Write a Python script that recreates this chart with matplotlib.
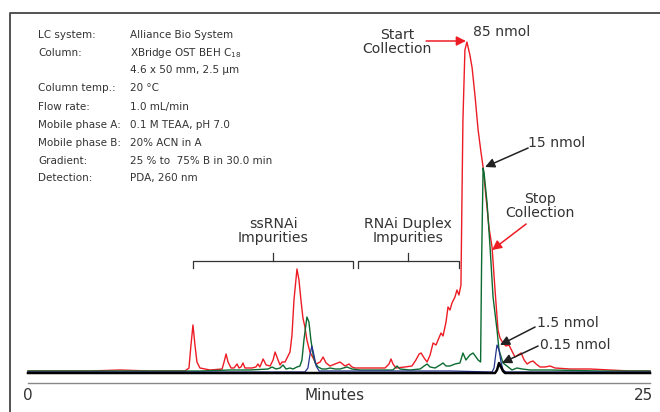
import matplotlib
matplotlib.use("Agg")
import matplotlib.pyplot as plt

# chromatogram traces: time (min), response (arb. units)
red_t = [0.00, 1.29, 2.49, 3.70, 4.90, 6.31, 6.47, 6.55, 6.63, 6.71, 6.79, 6.91,
         7.32, 7.80, 7.88, 7.96, 8.04, 8.16, 8.28, 8.40, 8.48, 8.56, 8.64, 8.72,
         9.00, 9.16, 9.24, 9.32, 9.45, 9.57, 9.73, 9.85, 9.93, 10.05, 10.13, 10.21,
         10.33, 10.45, 10.53, 10.61, 10.69, 10.81, 10.89, 10.97, 11.05, 11.13, 11.21,
         11.33, 11.46, 11.58, 11.74, 11.86, 11.98, 12.14, 12.34, 12.54, 12.74, 12.90,
         13.02, 13.14, 13.75, 14.35, 14.51, 14.59, 14.67, 14.79, 15.15, 15.43, 15.59,
         15.72, 15.80, 15.92, 16.04, 16.16, 16.28, 16.40, 16.48, 16.60, 16.68, 16.80,
         16.88, 16.96, 17.04, 17.16, 17.24, 17.32, 17.40, 17.44, 17.48, 17.56, 17.64,
         17.76, 17.85, 17.97, 18.09, 18.21, 18.29, 18.41, 18.53, 18.65, 18.77, 18.89,
         18.97, 19.09, 19.21, 19.33, 19.45, 19.57, 19.69, 19.82, 19.94, 20.06, 20.18,
         20.30, 20.42, 20.58, 20.78, 20.98, 21.18, 21.78, 22.59, 23.39, 24.20, 25.00]
red_y = [2, 2, 2, 3, 2, 2, 5, 28, 48, 28, 11, 5,
         3, 4, 11, 19, 11, 5, 5, 9, 5, 6, 10, 5,
         5, 6, 9, 6, 14, 8, 7, 13, 21, 13, 8, 11,
         11, 17, 21, 38, 73, 104, 93, 73, 55, 46, 33,
         21, 15, 9, 11, 16, 10, 7, 9, 11, 7, 9,
         6, 5, 5, 5, 9, 14, 9, 5, 6, 7, 13,
         19, 20, 15, 11, 18, 30, 28, 33, 40, 37, 51,
         66, 63, 70, 76, 83, 78, 88, 173, 253, 323, 331,
         318, 305, 276, 243, 220, 206, 175, 145, 126, 83, 43,
         35, 30, 27, 28, 22, 16, 18, 20, 13, 9, 11,
         12, 9, 6, 6, 7, 5, 4, 4, 3, 2, 2]

green_t = [0.00, 6.91, 8.12, 8.92, 9.65, 9.81, 9.97, 10.13, 10.25, 10.37, 10.53,
           10.65, 10.81, 10.93, 11.01, 11.09, 11.21, 11.29, 11.37, 11.46, 11.54,
           11.66, 11.82, 11.98, 12.14, 12.34, 12.54, 12.82, 13.02, 13.34, 14.15,
           14.67, 14.83, 14.95, 15.35, 15.76, 15.92, 16.04, 16.16, 16.36, 16.56,
           16.68, 16.80, 16.96, 17.16, 17.36, 17.48, 17.60, 17.76, 17.89, 18.09,
           18.19, 18.23, 18.29, 18.33, 18.45, 18.57, 18.69, 18.85, 18.93, 19.09,
           19.25, 19.45, 19.65, 19.86, 20.18, 20.98, 23.00, 25.00]
green_y = [2, 2, 3, 3, 4, 6, 4, 5, 8, 4, 5,
           4, 6, 7, 13, 33, 56, 51, 33, 18, 10,
           6, 4, 4, 5, 4, 4, 6, 4, 3, 3,
           3, 7, 4, 3, 4, 7, 9, 6, 5, 8,
           10, 7, 7, 9, 10, 20, 13, 18, 20, 13,
           11, 110, 205, 200, 170, 126, 76, 43, 23, 10,
           7, 3, 5, 4, 3, 3, 2, 2]

blue_t = [0.00, 11.13, 11.25, 11.33, 11.41, 11.50, 11.58, 11.70, 17.00, 18.65,
          18.73, 18.81, 18.85, 18.93, 19.01, 19.09, 19.21, 25.00]
blue_y = [1, 1, 5, 18, 27, 17, 7, 2, 2, 1,
          5, 21, 28, 23, 11, 3, 1, 1]

black_t = [0.00, 18.77, 18.85, 18.93, 19.01, 19.09, 19.17, 25.00]
black_y = [0, 0, 3, 10, 6, 2, 0, 0]

# method conditions box
info_keys = ["LC system:", "Column:", "", "Column temp.:", "Flow rate:",
             "Mobile phase A:", "Mobile phase B:", "Gradient:", "Detection:"]
info_vals = ["Alliance Bio System", "XBridge OST BEH C$_{18}$", "4.6 x 50 mm, 2.5 \u00b5m",
             "20 \u00b0C", "1.0 mL/min", "0.1 M TEAA, pH 7.0", "20% ACN in A",
             "25 % to  75% B in 30.0 min", "PDA, 260 nm"]

red = "#ed1c24"
green = "#0b6b30"
blue = "#24338f"
txt = "#333333"

fig = plt.figure(figsize=(6.6, 4.12), dpi=100)
ax = fig.add_axes([0, 0, 1, 1])
ax.set_xlim(-1.125, 25.40)
ax.set_ylim(-39, 373)
ax.axis("off")

ax.plot(red_t, red_y, color=red, lw=1.0, zorder=2)
ax.plot(green_t, green_y, color=green, lw=1.0, zorder=3)
ax.plot(blue_t, blue_y, color=blue, lw=0.9, zorder=4)
ax.plot(black_t, black_y, color="black", lw=1.8, zorder=5)

# outer frame (left and top) and the time axis line
ax.plot([-0.72, -0.72, 25.5], [-45, 360, 360], color="#444444", lw=1.3, clip_on=False)
ax.plot([0, 25], [-10, -10], color="#888888", lw=1.0)
ax.text(0, -23, "0", ha="center", va="center", fontsize=11, color=txt)
ax.text(24.75, -23, "25", ha="center", va="center", fontsize=11, color=txt)
ax.text(12.34, -23, "Minutes", ha="center", va="center", fontsize=11, color=txt)

info_h = [338, 320, 303, 285, 266, 248, 230, 212, 195]
for k, v, h in zip(info_keys, info_vals, info_h):
    ax.text(0.40, h, k, ha="left", va="center", fontsize=7.5, color=txt)
    ax.text(4.10, h, v, ha="left", va="center", fontsize=7.5, color=txt)

fs = 10.1
ax.text(14.83, 331, "Start\nCollection", ha="center", va="center", fontsize=fs,
        color=txt, linespacing=1.0)
ax.text(17.89, 341, "85 nmol", ha="left", va="center", fontsize=fs, color=txt)
ax.text(20.10, 230, "15 nmol", ha="left", va="center", fontsize=fs, color=txt)
ax.text(20.58, 167, "Stop\nCollection", ha="center", va="center", fontsize=fs,
        color=txt, linespacing=1.0)
ax.text(9.85, 142, "ssRNAi\nImpurities", ha="center", va="center", fontsize=fs,
        color=txt, linespacing=1.0)
ax.text(15.27, 142, "RNAi Duplex\nImpurities", ha="center", va="center", fontsize=fs,
        color=txt, linespacing=1.0)
ax.text(20.46, 50, "1.5 nmol", ha="left", va="center", fontsize=fs, color=txt)
ax.text(20.58, 28, "0.15 nmol", ha="left", va="center", fontsize=fs, color=txt)

# brackets under the impurity labels
for x0, x1 in [(6.63, 13.06), (13.26, 17.32)]:
    xc = (x0 + x1) / 2
    ax.plot([x0, x0, x1, x1], [105, 112, 112, 105], color="#333333", lw=0.9)
    ax.plot([xc, xc], [112, 120], color="#333333", lw=0.9)

arrows = [((16.00, 332), (17.60, 332), red),
          ((20.10, 225), (18.37, 206), "#222222"),
          ((20.02, 149), (18.65, 123), red),
          ((20.38, 46), (18.97, 28), "#222222"),
          ((20.50, 27), (19.05, 10), "#222222")]
for start, end, c in arrows:
    ax.annotate("", xy=end, xytext=start,
                arrowprops=dict(arrowstyle="-|>", color=c, lw=1.1,
                                mutation_scale=14, shrinkA=0, shrinkB=0),
                zorder=6)

fig.savefig("out.png", dpi=100)
